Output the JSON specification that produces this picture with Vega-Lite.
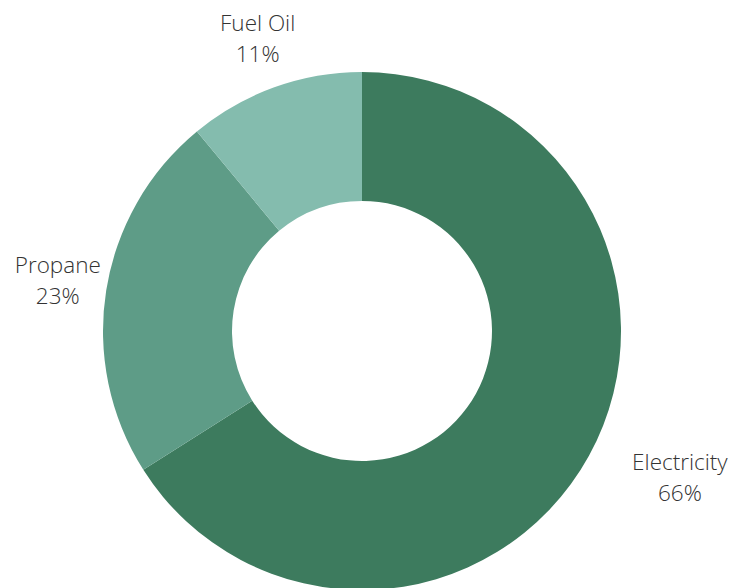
{
  "$schema": "https://vega.github.io/schema/vega-lite/v6.json",
  "width": 724,
  "height": 662,
  "autosize": "none",
  "padding": {"left": 0, "top": 0, "right": 19, "bottom": 0},
  "background": "white",
  "config": {"view": {"stroke": null}},
  "data": {
    "values": [
      {"category": "Electricity", "value": 66, "order": 1},
      {"category": "Propane", "value": 23, "order": 2},
      {"category": "Fuel Oil", "value": 11, "order": 3}
    ]
  },
  "transform": [
    {"stack": "value", "groupby": [], "sort": [{"field": "order", "order": "ascending"}], "as": ["v0", "v1"]},
    {"calculate": "(datum.v0 + datum.v1) / 2", "as": "mid"},
    {"calculate": "datum.category + '\\n' + datum.value + '%'", "as": "label"}
  ],
  "layer": [
    {
      "mark": {"type": "arc", "outerRadius": 259, "innerRadius": 130},
      "encoding": {
        "theta": {"field": "v0", "type": "quantitative", "scale": {"domain": [0, 100]}},
        "theta2": {"field": "v1"},
        "color": {
          "field": "category",
          "type": "nominal",
          "scale": {"domain": ["Electricity", "Propane", "Fuel Oil"], "range": ["#3d7b5e", "#5e9c87", "#84bcae"]},
          "legend": null
        }
      }
    },
    {
      "transform": [{"filter": "datum.category !== 'Electricity'"}],
      "mark": {"type": "text", "radius": 308, "dy": -17, "font": "Open Sans", "fontWeight": 300, "fontSize": 22.5, "lineHeight": 31, "lineBreak": "\n", "align": "center", "baseline": "middle", "color": "#333333"},
      "encoding": {
        "theta": {"field": "mid", "type": "quantitative", "scale": {"domain": [0, 100]}},
        "text": {"field": "label"}
      }
    },
    {
      "transform": [{"filter": "datum.category === 'Electricity'"}],
      "mark": {"type": "text", "radius": 308, "dx": 48, "dy": -16, "font": "Open Sans", "fontWeight": 300, "fontSize": 22.5, "lineHeight": 31, "lineBreak": "\n", "align": "center", "baseline": "middle", "color": "#333333"},
      "encoding": {
        "theta": {"field": "mid", "type": "quantitative", "scale": {"domain": [0, 100]}},
        "text": {"field": "label"}
      }
    }
  ]
}
